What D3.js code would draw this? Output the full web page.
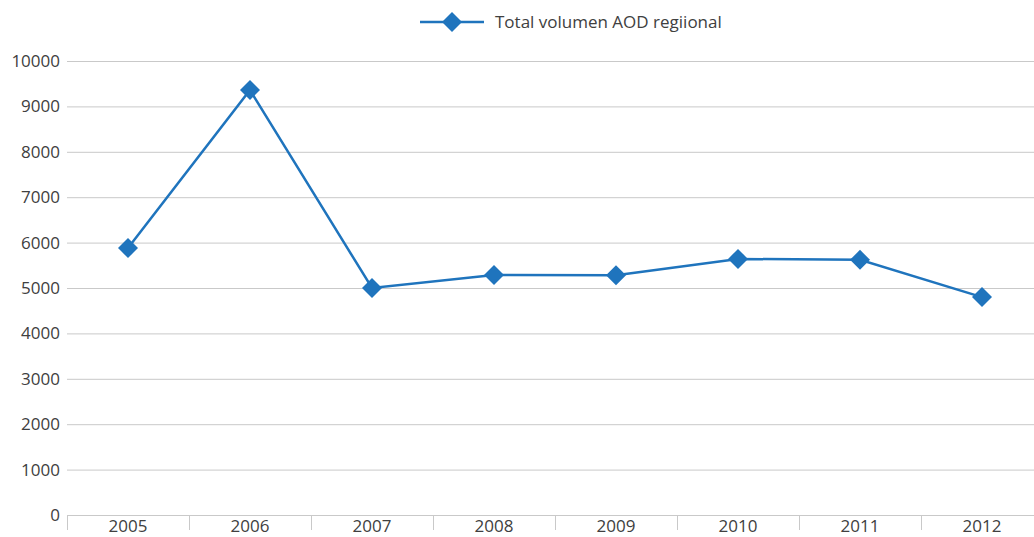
<!DOCTYPE html>
<html><head><meta charset="utf-8">
<script src="https://cdn.jsdelivr.net/npm/d3@7"></script>
<style>body{margin:0;background:#fff;}svg{display:block;font-family:"Open Sans","Noto Sans",sans-serif;}</style>
</head><body>
<svg id="c" width="1034" height="537"></svg>
<script>
const years = ["2005","2006","2007","2008","2009","2010","2011","2012"];
const values = [5880, 9360, 5000, 5285, 5280, 5640, 5620, 4800];
const yTicks = [0,1000,2000,3000,4000,5000,6000,7000,8000,9000,10000];
const seriesName = "Total volumen AOD regiional";
const color = "#1f74bd";
const fs = 17;

const svg = d3.select("#c");
const x = d3.scaleBand().domain(years).range([67, 1043]);
const y = d3.scaleLinear().domain([0, 10000]).range([515, 61]);

// gridlines
svg.append("g").selectAll("line").data(yTicks.filter(d=>d>0)).join("line")
  .attr("x1", 67).attr("x2", 1043)
  .attr("y1", d=>y(d)+0.5).attr("y2", d=>y(d)+0.5)
  .attr("stroke", "#c9c9c9").attr("stroke-width", 1);

// y axis labels
const ya = svg.append("g").attr("transform","translate(67,0)")
  .call(d3.axisLeft(y).tickValues(yTicks).tickSize(0).tickPadding(7).tickFormat(d3.format("d")));
ya.select(".domain").remove();
ya.selectAll("text").attr("font-size", fs).attr("fill", "#404040").attr("font-family", '"Open Sans","Noto Sans",sans-serif');

// x axis
const xa = svg.append("g").attr("transform","translate(0,515.5)")
  .call(d3.axisBottom(x).tickSize(0).tickPadding(4));
xa.select(".domain").attr("stroke", "#c9c9c9").attr("d", "M67,0H1043");
xa.selectAll("text").attr("font-size", fs).attr("fill", "#404040").attr("font-family", '"Open Sans","Noto Sans",sans-serif');
// category separators
svg.append("g").selectAll("line").data(years).join("line")
  .attr("x1", d=>Math.round(x(d))+0.5).attr("x2", d=>Math.round(x(d))+0.5)
  .attr("y1", 515).attr("y2", 530)
  .attr("stroke", "#c9c9c9");

// line
const line = d3.line().x((d,i)=>x(years[i])+x.bandwidth()/2).y(d=>y(d));
svg.append("path").datum(values).attr("d", line)
  .attr("fill","none").attr("stroke", color).attr("stroke-width", 2.5);

const diamond = d3.symbol().type(d3.symbolSquare).size(200);
svg.append("g").selectAll("path").data(values).join("path")
  .attr("d", diamond)
  .attr("transform", (d,i)=>`translate(${x(years[i])+x.bandwidth()/2},${y(d)}) rotate(45)`)
  .attr("fill", color);

// legend
const lg = svg.append("g");
lg.append("line").attr("x1",420).attr("x2",484).attr("y1",22).attr("y2",22)
  .attr("stroke", color).attr("stroke-width", 2.5);
lg.append("path").attr("d", diamond).attr("transform","translate(452,22) rotate(45)").attr("fill", color);
lg.append("text").attr("x", 495).attr("y", 28).text(seriesName)
  .attr("font-size", fs).attr("fill", "#404040");
</script>
</body></html>
